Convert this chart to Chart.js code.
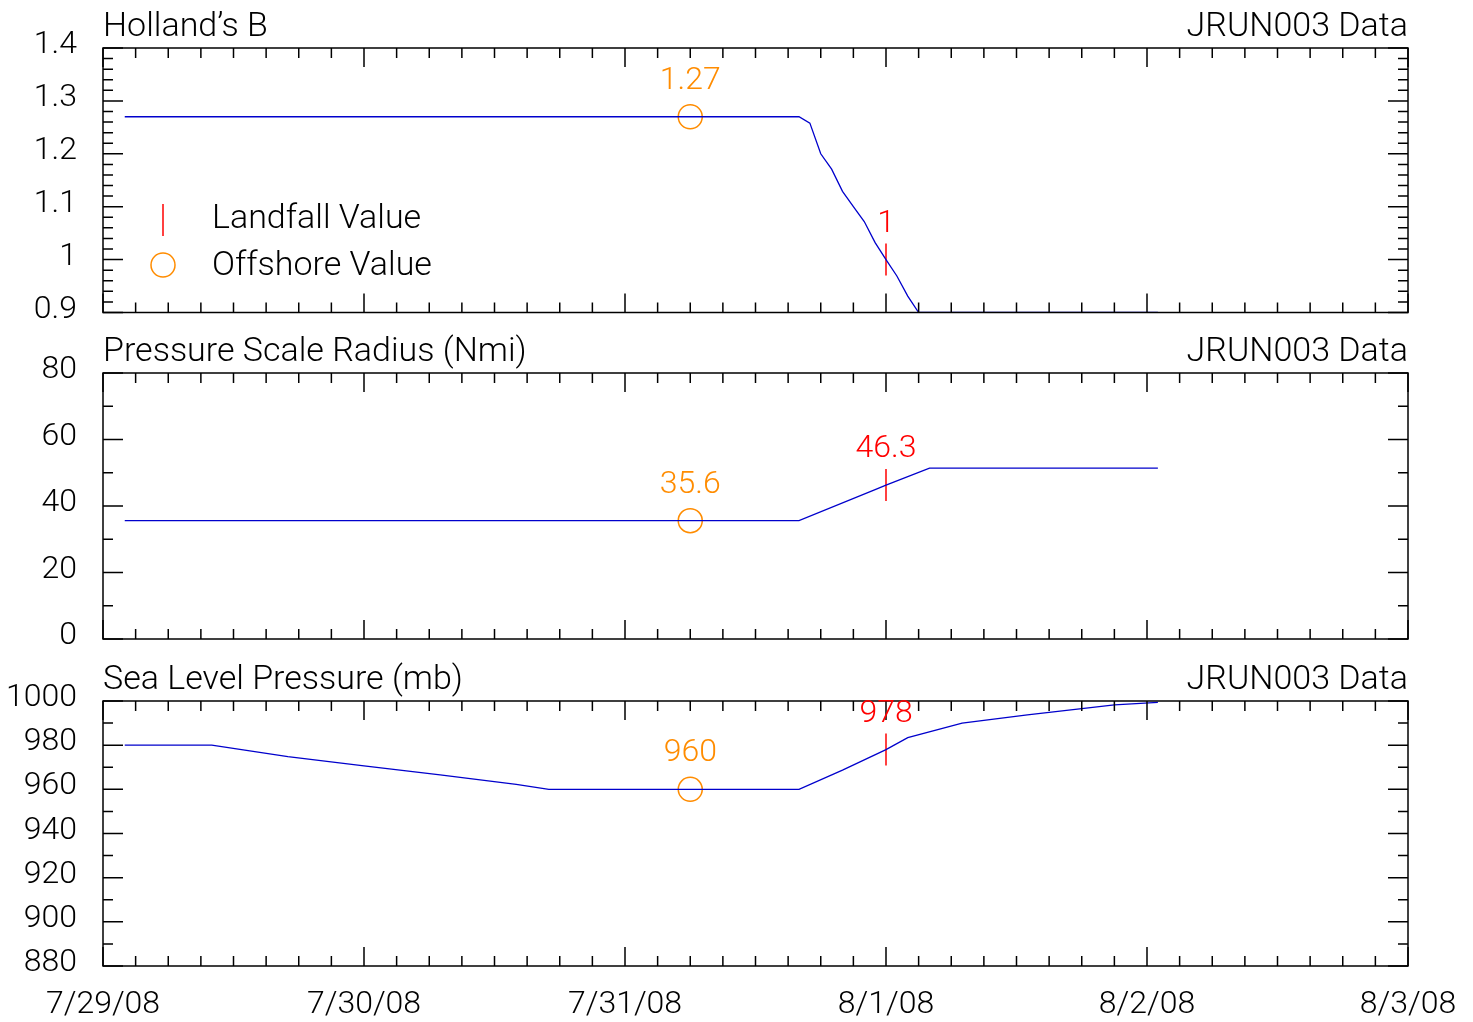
<!DOCTYPE html>
<html>
<head>
<meta charset="utf-8">
<script src="https://cdn.jsdelivr.net/npm/chart.js@4.4.1/dist/chart.umd.min.js"></script>
<style>
  body { margin: 0; background: #fff; overflow: hidden; }
  .panel { position: absolute; left: 0; width: 1473px; }
</style>
</head>
<body>
<div class="panel" style="top:0;height:330px"><canvas id="hollandB"></canvas></div>
<div class="panel" style="top:330px;height:330px"><canvas id="radius"></canvas></div>
<div class="panel" style="top:660px;height:362px"><canvas id="slp"></canvas></div>
<script>
const FONT = 'Roboto';
const FONT_WEIGHT = '300';

// x axis is hours since 7/29/08 00:00
const dayLabels = ['7/29/08', '7/30/08', '7/31/08', '8/1/08', '8/2/08', '8/3/08'];

const bHours = [2, 64, 65, 66, 67, 68, 69, 70, 71, 72, 73, 74, 75, 97];
const bValues = [1.27, 1.27, 1.258, 1.20, 1.171, 1.129, 1.10, 1.072, 1.032, 1.00, 0.969, 0.931, 0.90, 0.90];

const radiusHours = [2, 64, 71, 72, 76, 97];
const radiusValues = [35.6, 35.6, 44.9, 46.3, 51.4, 51.4];

const slpHours = [2, 10, 17, 24, 31, 38, 41, 64, 68, 72, 74, 79, 85, 93, 97];
const slpValues = [980, 980, 974.8, 970.6, 966.5, 962.2, 960, 960, 968.7, 978, 983.4, 990, 993.7, 998.2, 999.4];

const landfallHour = 72;
const offshoreHour = 54;
const landfallValues = [1, 46.3, 978];
const offshoreValues = [1.27, 35.6, 960];

function font(size) {
    return FONT_WEIGHT + ' ' + size + 'px ' + FONT;
}

// box, inward ticks, titles, marker values, legend
const framePlugin = {
    id: 'frame',
    afterDraw(chart, args, opts) {
        const ctx = chart.ctx;
        const a = chart.chartArea;
        const xs = chart.scales.x;
        const ys = chart.scales.y;
        ctx.save();
        ctx.strokeStyle = '#000';
        ctx.lineWidth = 1.5;
        ctx.strokeRect(a.left, a.top, a.right - a.left, a.bottom - a.top);
        ctx.beginPath();
        for (let h = 0; h <= 120; h += 3) {
            const px = xs.getPixelForValue(h);
            const len = h % 24 === 0 ? 19 : 10;
            ctx.moveTo(px, a.bottom); ctx.lineTo(px, a.bottom - len);
            ctx.moveTo(px, a.top); ctx.lineTo(px, a.top + len);
        }
        const n = Math.round((ys.max - ys.min) / opts.minor);
        for (let i = 0; i <= n; i++) {
            const py = ys.getPixelForValue(ys.min + i * opts.minor);
            const len = i % opts.per === 0 ? 20 : 10;
            ctx.moveTo(a.left, py); ctx.lineTo(a.left + len, py);
            ctx.moveTo(a.right, py); ctx.lineTo(a.right - len, py);
        }
        ctx.stroke();

        ctx.font = font(34);
        ctx.fillStyle = '#000';
        ctx.textBaseline = 'alphabetic';
        ctx.textAlign = 'left';
        ctx.fillText(opts.title, a.left, a.top - 12);
        ctx.textAlign = 'right';
        ctx.fillText('JRUN003 Data', a.right, a.top - 12);

        ctx.font = font(32);
        ctx.textAlign = 'center';
        ctx.textBaseline = 'middle';
        chart.data.datasets.forEach(function(ds, i) {
            if (!ds.valueColor) return;
            const meta = chart.getDatasetMeta(i);
            meta.data.forEach(function(pt, j) {
                ctx.fillStyle = ds.valueColor;
                ctx.fillText(String(ds.data[j].y), pt.x, pt.y - 36);
            });
        });

        if (opts.legend) {
            const sx = a.left + 60;
            ctx.strokeStyle = '#ff0000';
            ctx.beginPath();
            ctx.moveTo(sx, 204); ctx.lineTo(sx, 236);
            ctx.stroke();
            ctx.strokeStyle = '#ff8c00';
            ctx.beginPath();
            ctx.arc(sx, 265, 12, 0, Math.PI * 2);
            ctx.stroke();
            ctx.font = font(34);
            ctx.fillStyle = '#000';
            ctx.textAlign = 'left';
            ctx.fillText('Landfall Value', a.left + 109, 219);
            ctx.fillText('Offshore Value', a.left + 109, 266);
        }
        ctx.restore();
    }
};

function makePanel(id, p) {
    const lineData = p.hours.map(function(h, i) { return {x: h, y: p.values[i]}; });
    return new Chart(document.getElementById(id), {
        type: 'line',
        data: {
            datasets: [{
                data: lineData,
                borderColor: '#0000cc',
                borderWidth: 1.3,
                pointRadius: 0,
                tension: 0
            }, {
                data: [{x: landfallHour, y: p.landfall}],
                showLine: false,
                pointStyle: 'line',
                pointRotation: 90,
                pointRadius: 16,
                pointBorderColor: '#ff0000',
                pointBorderWidth: 1.5,
                valueColor: '#ff0000'
            }, {
                data: [{x: offshoreHour, y: p.offshore}],
                showLine: false,
                pointStyle: 'circle',
                pointRadius: 12,
                pointBackgroundColor: 'rgba(0,0,0,0)',
                pointBorderColor: '#ff8c00',
                pointBorderWidth: 1.5,
                valueColor: '#ff8c00'
            }]
        },
        plugins: [framePlugin],
        options: {
            responsive: true,
            maintainAspectRatio: false,
            animation: false,
            events: [],
            layout: { padding: { left: 0, right: 65, top: p.top, bottom: p.bottom } },
            scales: {
                x: {
                    type: 'linear',
                    min: 0,
                    max: 120,
                    display: p.showDates,
                    grid: { display: false, drawTicks: false },
                    border: { display: false },
                    afterFit: function(scale) {
                        if (p.showDates) scale.height = 56;
                        scale.paddingLeft = 0;
                        scale.paddingRight = 0;
                    },
                    ticks: {
                        stepSize: 24,
                        autoSkip: false,
                        maxRotation: 0,
                        padding: 20,
                        color: '#000',
                        font: { family: FONT, size: 32, weight: FONT_WEIGHT },
                        callback: function(v) { return dayLabels[Math.round(v / 24)]; }
                    }
                },
                y: {
                    min: p.min,
                    max: p.max,
                    afterFit: function(scale) {
                        scale.width = 103;
                        scale.paddingTop = 0;
                        scale.paddingBottom = 0;
                    },
                    grid: { display: false, drawTicks: false },
                    border: { display: false },
                    ticks: {
                        stepSize: p.step,
                        padding: 26,
                        labelOffset: -3,
                        color: '#000',
                        font: { family: FONT, size: 32, weight: FONT_WEIGHT },
                        callback: function(v) { return String(Number(v.toFixed(2))); }
                    }
                }
            },
            plugins: {
                legend: { display: false },
                tooltip: { enabled: false },
                frame: { title: p.title, minor: p.step / p.per, per: p.per, legend: p.legend }
            }
        }
    });
}

makePanel('hollandB', {
    title: 'Holland\u2019s B', hours: bHours, values: bValues,
    landfall: landfallValues[0], offshore: offshoreValues[0],
    min: 0.9, max: 1.4, step: 0.1, per: 5,
    top: 48, bottom: 17, showDates: false, legend: true
});

makePanel('radius', {
    title: 'Pressure Scale Radius (Nmi)', hours: radiusHours, values: radiusValues,
    landfall: landfallValues[1], offshore: offshoreValues[1],
    min: 0, max: 80, step: 20, per: 2,
    top: 43, bottom: 21, showDates: false, legend: false
});

makePanel('slp', {
    title: 'Sea Level Pressure (mb)', hours: slpHours, values: slpValues,
    landfall: landfallValues[2], offshore: offshoreValues[2],
    min: 880, max: 1000, step: 20, per: 2,
    top: 41, bottom: 0, showDates: true, legend: false
});
</script>
</body>
</html>
